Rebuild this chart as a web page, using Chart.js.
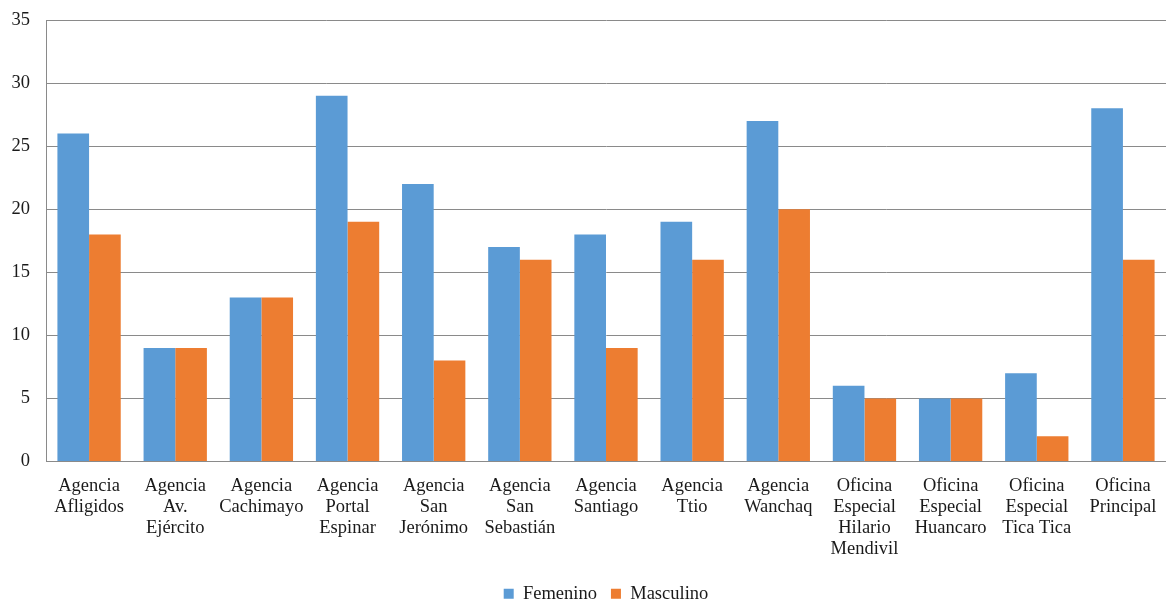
<!DOCTYPE html>
<html>
<head>
<meta charset="utf-8">
<script src="https://cdn.jsdelivr.net/npm/chart.js@4"></script>
<style>
html,body{margin:0;padding:0;background:#fff;}
#wrap{width:1166px;height:599px;}
</style>
</head>
<body>
<div id="wrap"><canvas id="c" width="1166" height="599"></canvas></div>
<script>
const categories = [
  ["Agencia","Afligidos"],
  ["Agencia","Av.","Ejército"],
  ["Agencia","Cachimayo"],
  ["Agencia","Portal","Espinar"],
  ["Agencia","San","Jerónimo"],
  ["Agencia","San","Sebastián"],
  ["Agencia","Santiago"],
  ["Agencia","Ttio"],
  ["Agencia","Wanchaq"],
  ["Oficina","Especial","Hilario","Mendivil"],
  ["Oficina","Especial","Huancaro"],
  ["Oficina","Especial","Tica Tica"],
  ["Oficina","Principal"]
];
const femenino = [26, 9, 13, 29, 22, 17, 18, 19, 27, 6, 5, 7, 28];
const masculino = [18, 9, 13, 19, 8, 16, 9, 16, 20, 5, 5, 2, 16];
const seriesNames = ["Femenino", "Masculino"];
const yTicks = {min: 0, max: 35, step: 5};

const fontFamily = "'Liberation Serif', 'Times New Roman', serif";
const textColor = "#1a1a1a";
const gridColor = "#8a8a8a";

new Chart(document.getElementById('c'), {
  type: 'bar',
  data: {
    labels: categories,
    datasets: [
      {label: seriesNames[0], data: femenino, backgroundColor: '#5B9BD5', categoryPercentage: 0.735, barPercentage: 1.0},
      {label: seriesNames[1], data: masculino, backgroundColor: '#ED7D31', categoryPercentage: 0.735, barPercentage: 1.0}
    ]
  },
  options: {
    responsive: false,
    animation: false,
    devicePixelRatio: 1,
    layout: {padding: {top: 20, left: 0, right: 0, bottom: -14}},
    plugins: {
      legend: {
        position: 'bottom',
        fullSize: false,
        labels: {
          boxWidth: 10, boxHeight: 10, padding: 14,
          color: textColor,
          font: {family: fontFamily, size: 18.5}
        }
      },
      tooltip: {enabled: false}
    },
    scales: {
      x: {
        grid: {display: true, color: 'rgba(0,0,0,0)', drawTicks: true, tickLength: 14, tickColor: 'rgba(0,0,0,0)'},
        border: {display: true, color: gridColor, width: 1},
        ticks: {
          color: textColor, padding: 0, maxRotation: 0, autoSkip: false,
          font: {family: fontFamily, size: 18.5, lineHeight: 1.14}
        },
        afterFit: (s) => { s.height = 109; }
      },
      y: {
        min: yTicks.min, max: yTicks.max,
        grid: {color: gridColor, drawTicks: true, tickLength: 12, tickColor: 'rgba(0,0,0,0)', lineWidth: 1},
        border: {display: true, color: gridColor, width: 1},
        ticks: {
          stepSize: yTicks.step, color: textColor, padding: 4,
          font: {family: fontFamily, size: 18.5}
        },
        afterFit: (s) => { s.width = 46; }
      }
    }
  }
});
</script>
</body>
</html>
